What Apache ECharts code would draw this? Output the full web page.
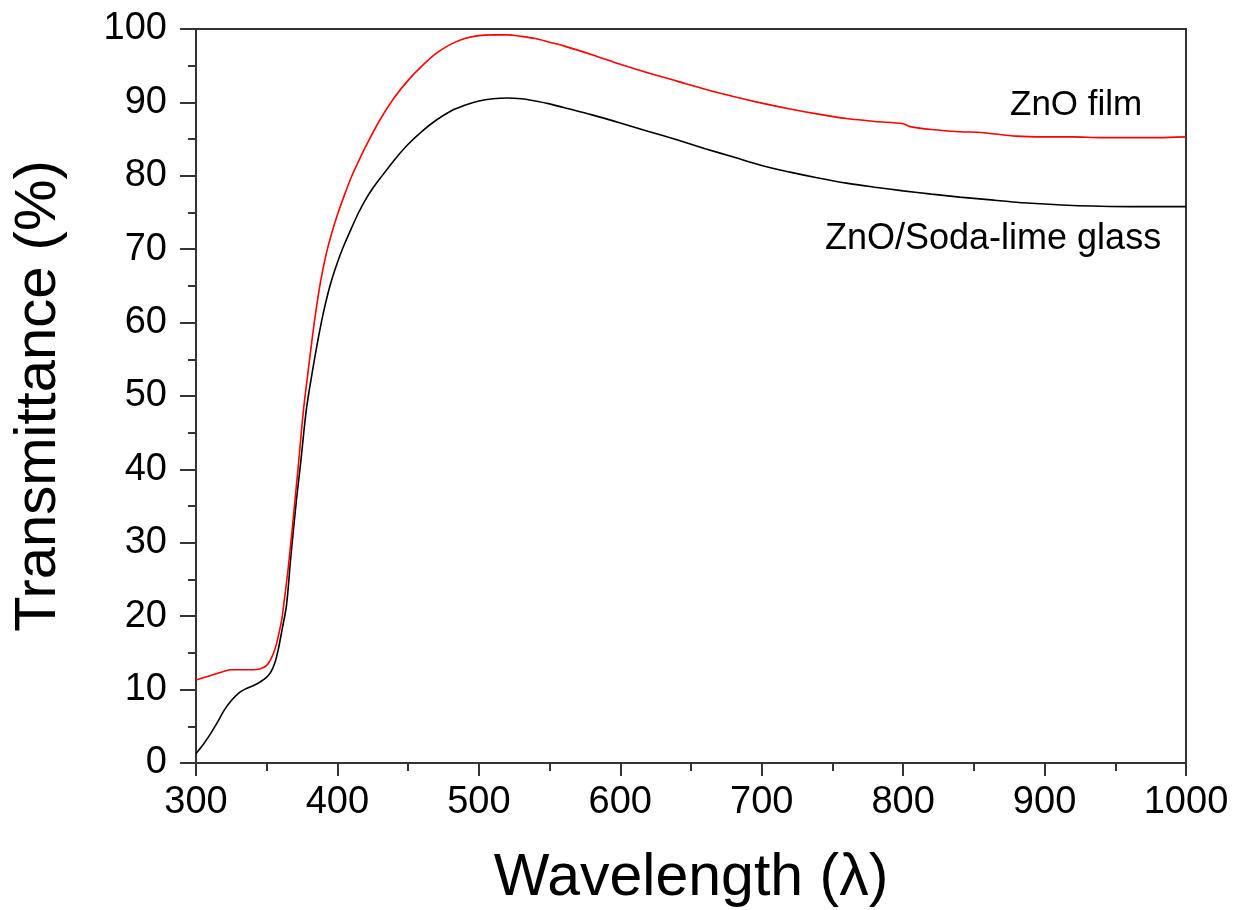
<!DOCTYPE html>
<html>
<head>
<meta charset="utf-8">
<script src="https://cdn.jsdelivr.net/npm/echarts@6/dist/echarts.min.js"></script>
<style>
html,body{margin:0;padding:0;background:#fff;}
#chart{width:1237px;height:910px;}
</style>
</head>
<body>
<div id="chart"></div>
<script>
// ZnO film (red)
const filmWavelength = [300,310,320,325,330,340,345,350,354,357,359,360.6,362,365.3,370,373,376,380,384,388,392,396,400,405,410,415,420,430,440,450,460,470,480,490,500,510,520,530,540,550,560,580,600,620,640,660,680,700,720,740,760,780,800,805,820,840,855,880,900,920,940,960,980,1000];
const filmT = [11.3,11.9,12.5,12.7,12.7,12.7,12.8,13.3,14.6,16.3,18.0,19.5,21.5,26.7,35.8,41.9,48.1,54.5,60.5,65.5,69.3,72.2,74.7,77.4,79.9,82.0,84.0,87.6,90.6,93.0,95.0,96.7,97.9,98.7,99.1,99.2,99.2,99.0,98.7,98.2,97.7,96.5,95.2,94.0,92.9,91.8,90.8,89.9,89.1,88.4,87.8,87.4,87.1,86.7,86.3,86.0,85.9,85.4,85.3,85.3,85.2,85.2,85.2,85.3];
// ZnO / soda-lime glass (black)
const glassWavelength = [300,305,310,315,320,325,330,335,340,345,350,353,356,358,361,364,367,371,374,378,382,386,390,395,400,405,410,415,420,425,430,440,450,460,470,480,490,500,510,520,530,540,550,560,580,600,620,640,660,680,700,720,740,760,780,800,820,840,860,880,900,920,940,960,980,1000];
const glassT = [1.3,2.5,3.9,5.5,7.2,8.5,9.5,10.1,10.5,11.0,11.7,12.4,13.8,15.3,18.3,21.5,28.0,35.8,40.9,48.1,53.0,57.4,61.3,65.2,68.2,70.7,72.9,75.0,76.8,78.3,79.6,82.1,84.3,86.1,87.6,88.8,89.6,90.2,90.5,90.6,90.5,90.2,89.8,89.3,88.3,87.2,86.05,84.9,83.7,82.55,81.4,80.5,79.7,79.0,78.45,77.95,77.5,77.1,76.75,76.4,76.15,75.95,75.85,75.8,75.8,75.8];
const xTicks = [300,400,500,600,700,800,900,1000];
const yTicks = [0,10,20,30,40,50,60,70,80,90,100];
const seriesNames = ['ZnO film','ZnO/Soda-lime glass'];

const pair = (xs, ys) => xs.map((x, i) => [x, ys[i]]);
const font = '"Liberation Sans", Arial, sans-serif';
const axisColor = '#333';

const chart = echarts.init(document.getElementById('chart'), null, {renderer: 'canvas'});
chart.setOption({
  animation: false,
  backgroundColor: '#fff',
  grid: {left: 196, right: 51, top: 29, bottom: 147, show: true, borderColor: axisColor, borderWidth: 2,
    backgroundColor: 'transparent', containLabel: false, outerBoundsMode: 'none'},
  xAxis: {
    type: 'value', min: xTicks[0], max: xTicks[xTicks.length - 1], interval: 100,
    name: 'Wavelength (λ)', nameLocation: 'middle', nameGap: 86,
    nameTextStyle: {fontFamily: font, fontSize: 59, color: '#000'},
    axisLine: {show: true, onZero: false, lineStyle: {color: axisColor, width: 2}},
    axisTick: {show: true, inside: false, length: 13, lineStyle: {color: axisColor, width: 2}},
    minorTick: {show: true, splitNumber: 2, length: 8, lineStyle: {color: axisColor, width: 2}},
    splitLine: {show: false},
    axisLabel: {fontFamily: font, fontSize: 38, color: '#000', margin: 21, showMinLabel: true, showMaxLabel: true,
      formatter: v => String(v)}
  },
  yAxis: {
    type: 'value', min: yTicks[0], max: yTicks[yTicks.length - 1], interval: 10,
    name: 'Transmittance (%)', nameLocation: 'middle', nameGap: 128,
    nameTextStyle: {fontFamily: font, fontSize: 58, color: '#000'},
    axisLine: {show: true, onZero: false, lineStyle: {color: axisColor, width: 2}},
    axisTick: {show: true, inside: false, length: 16, lineStyle: {color: axisColor, width: 2}},
    minorTick: {show: true, splitNumber: 2, length: 8, lineStyle: {color: axisColor, width: 2}},
    splitLine: {show: false},
    axisLabel: {fontFamily: font, fontSize: 38, color: '#000', margin: 29, showMinLabel: true, showMaxLabel: true,
      formatter: v => String(v)}
  },
  series: [
    {
      name: seriesNames[0], type: 'line', data: pair(filmWavelength, filmT),
      showSymbol: false, smooth: 0.3, lineStyle: {color: '#ff0000', width: 1.6}, itemStyle: {color: '#ff0000'},
      z: 3
    },
    {
      name: seriesNames[1], type: 'line', data: pair(glassWavelength, glassT),
      showSymbol: false, smooth: 0.3, lineStyle: {color: '#000', width: 1.6}, itemStyle: {color: '#000'},
      z: 2
    }
  ],
  graphic: [
    {type: 'text', left: 1010, top: 88, style: {text: seriesNames[0], fontFamily: font, fontSize: 35, fill: '#000'}},
    {type: 'text', left: 825, top: 221, style: {text: seriesNames[1], fontFamily: font, fontSize: 36, fill: '#000'}}
  ]
});
</script>
</body>
</html>
